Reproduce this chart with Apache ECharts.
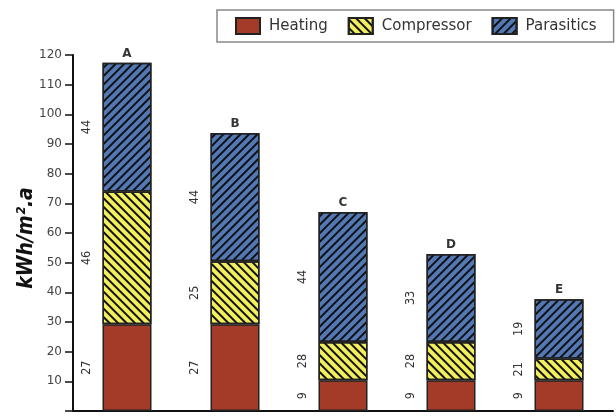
<!DOCTYPE html>
<html>
<head>
<meta charset="utf-8">
<script src="https://cdn.jsdelivr.net/npm/echarts@6/dist/echarts.min.js"></script>
<style>html,body{margin:0;padding:0;background:#fff}#c{width:616px;height:416px}</style>
</head>
<body>
<div id="c"></div>
<script>
// Category names
const categories = ['A', 'B', 'C', 'D', 'E'];
// Bar segment heights (kWh/m2.a)
const heating    = [29.2, 29.2, 10.4, 10.4, 10.4];
const compressor = [44.8, 21.3, 12.9, 12.9, 7.3];
const parasitics = [43.4, 43.2, 43.8, 29.6, 20.0];
// Numbers printed beside each segment
const heatingLabels    = ['27', '27', '9', '9', '9'];
const compressorLabels = ['46', '25', '28', '28', '21'];
const parasiticsLabels = ['44', '44', '44', '33', '19'];
// Y tick values
const yTicks = [10, 20, 30, 40, 50, 60, 70, 80, 90, 100, 110, 120];

const totals = categories.map((c, i) => heating[i] + compressor[i] + parasitics[i]);

const segLabel = (arr) => ({
  show: true,
  position: [-16, '50%'],
  rotate: 90,
  align: 'center',
  verticalAlign: 'middle',
  fontFamily: 'DejaVu Sans Condensed',
  fontSize: 12.5,
  color: '#333',
  formatter: (p) => arr[p.dataIndex]
});

const chart = echarts.init(document.getElementById('c'));
chart.setOption({
  animation: false,
  grid: { left: 73, right: 3, top: 55, bottom: 5 },
  legend: {
    left: 217, top: 10,
    padding: [7, 17, 7, 18],
    icon: 'rect',
    itemWidth: 24, itemHeight: 16, itemGap: 20,
    borderColor: '#888', borderWidth: 1.5,
    textStyle: { fontFamily: 'DejaVu Sans', fontSize: 15, color: '#333', padding: [0, 0, 0, 4] },
    data: ['Heating', 'Compressor', 'Parasitics']
  },
  xAxis: {
    type: 'category',
    data: categories,
    axisLine: { lineStyle: { color: '#111', width: 2 } },
    axisTick: { show: false },
    axisLabel: { show: false }
  },
  yAxis: {
    type: 'value',
    min: 0, max: 120, interval: 10,
    name: 'kWh/m².a',
    nameLocation: 'middle',
    nameGap: 36,
    nameMoveOverlap: false,
    nameTextStyle: { fontFamily: 'DejaVu Sans Condensed', fontWeight: 'bold', fontStyle: 'italic', fontSize: 21, color: '#111', padding: [0, 10, 0, 0] },
    axisLine: { show: true, lineStyle: { color: '#111', width: 2 } },
    axisTick: { show: true, length: 8, lineStyle: { color: '#111', width: 1.5 } },
    splitLine: { show: false },
    axisLabel: {
      margin: 11,
      fontFamily: 'DejaVu Sans', fontSize: 12, color: '#444',
      formatter: (v) => (yTicks.indexOf(v) >= 0 ? String(v) : '')
    }
  },
  series: [
    {
      name: 'Heating', type: 'bar', stack: 's', barWidth: 49,
      data: heating,
      itemStyle: { color: '#a33b28', borderColor: '#222', borderWidth: 1.5 },
      label: segLabel(heatingLabels)
    },
    {
      name: 'Compressor', type: 'bar', stack: 's', barWidth: 49,
      data: compressor,
      itemStyle: {
        color: '#f3ee5c', borderColor: '#222', borderWidth: 1.5,
        decal: { symbol: 'rect', color: '#111', dashArrayX: [1, 0], dashArrayY: [1.6, 3.4], rotation: Math.PI / 4 }
      },
      label: segLabel(compressorLabels)
    },
    {
      name: 'Parasitics', type: 'bar', stack: 's', barWidth: 49,
      data: parasitics,
      itemStyle: {
        color: '#5278b6', borderColor: '#222', borderWidth: 1.5,
        decal: { symbol: 'rect', color: '#111', dashArrayX: [1, 0], dashArrayY: [1.6, 3.4], rotation: -Math.PI / 4 }
      },
      label: segLabel(parasiticsLabels)
    },
    {
      name: 'names', type: 'scatter', symbolSize: 0,
      data: totals,
      label: {
        show: true, position: 'top', distance: 3,
        fontFamily: 'DejaVu Sans', fontWeight: 'bold', fontSize: 12, color: '#000',
        formatter: (p) => categories[p.dataIndex]
      }
    }
  ]
});
</script>
</body>
</html>
